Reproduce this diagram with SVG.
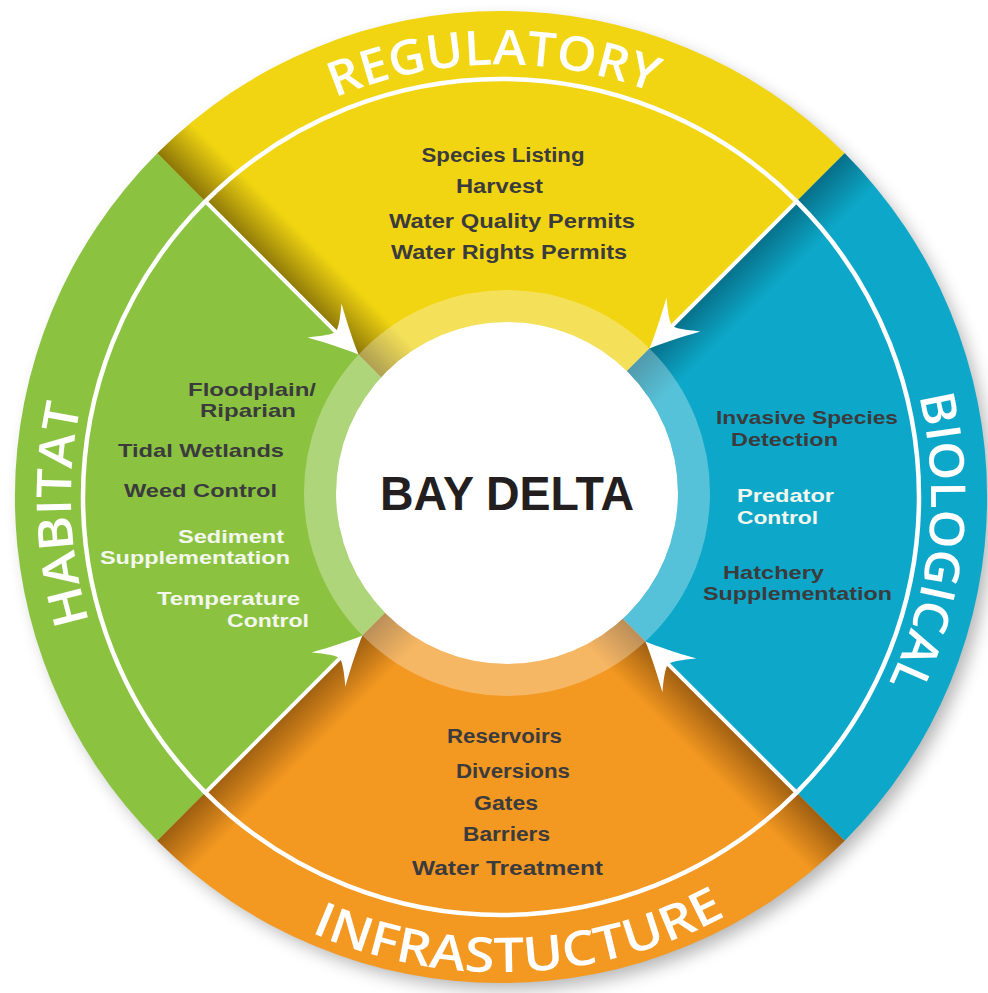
<svg xmlns="http://www.w3.org/2000/svg" width="988" height="993" viewBox="0 0 988 993">
<style>
.lbl{font-family:"Open Sans","Liberation Sans",sans-serif;font-weight:600;font-size:48px;fill:#ffffff}
.it{font-family:"Liberation Sans",Arial,sans-serif;font-weight:700;font-size:20px;fill:#3b3b3d;text-anchor:middle}
.iw{font-family:"Liberation Sans",Arial,sans-serif;font-weight:700;font-size:19px;fill:#3b3b3d;text-anchor:middle}
.wh{fill:#f4f7ee}
.center{font-family:"Liberation Sans",Arial,sans-serif;font-weight:700;font-size:48px;fill:#231f20;text-anchor:middle}
.sep{stroke:#ffffff;stroke-width:4;fill:none;marker-end:url(#arrow)}
</style>
<defs>
<filter id="blur" x="-10%" y="-10%" width="120%" height="120%"><feGaussianBlur stdDeviation="9"/></filter>
<linearGradient id="shY" gradientUnits="userSpaceOnUse" x1="501" y1="497" x2="533" y2="465"><stop offset="0" stop-color="#3a2a00" stop-opacity="0.55"/><stop offset="1" stop-color="#3a2a00" stop-opacity="0"/></linearGradient>
<linearGradient id="shB" gradientUnits="userSpaceOnUse" x1="501" y1="497" x2="533" y2="529"><stop offset="0" stop-color="#002a3a" stop-opacity="0.45"/><stop offset="1" stop-color="#002a3a" stop-opacity="0"/></linearGradient>
<linearGradient id="shOL" gradientUnits="userSpaceOnUse" x1="501" y1="497" x2="533" y2="529"><stop offset="0" stop-color="#4a2500" stop-opacity="0.5"/><stop offset="1" stop-color="#4a2500" stop-opacity="0"/></linearGradient>
<linearGradient id="shOR" gradientUnits="userSpaceOnUse" x1="501" y1="497" x2="469" y2="529"><stop offset="0" stop-color="#4a2500" stop-opacity="0.5"/><stop offset="1" stop-color="#4a2500" stop-opacity="0"/></linearGradient>
<path id="pReg" d="M223.3,166.1 A430,430 0 0 1 767.0,156.6"/>
<path id="pHab" d="M182.9,786.4 A430,430 0 0 1 160.8,234.0"/>
<path id="pBio" d="M857.5,256.5 A430,430 0 0 1 799.7,806.3"/>
<path id="pInf" d="M211.4,873.5 A475,475 0 0 0 820.4,849.0"/>
<marker id="arrow" viewBox="-74 -27 78 54" markerWidth="78" markerHeight="54" refX="-25" refY="0" orient="auto" markerUnits="userSpaceOnUse">
<path d="M0,0 C-12,-5 -30,-14 -48,-24 C-38,-12 -33,-5 -32,0 C-33,5 -38,12 -48,24 C-30,14 -12,5 0,0 Z" fill="#ffffff"/>
</marker>
</defs>
<rect width="988" height="993" fill="#ffffff"/>
<circle cx="508" cy="505" r="484" fill="#000" opacity="0.3" filter="url(#blur)"/>

<g id="habitat">
<path d="M501,497 L157.3,840.7 A486,486 0 0 1 157.3,153.3 Z" fill="#8bc341"/>
<text class="lbl" textLength="219" lengthAdjust="spacingAndGlyphs"><textPath href="#pHab" startOffset="50%" text-anchor="middle">HABITAT</textPath></text>
<text class="iw" x="252" y="396" textLength="128" lengthAdjust="spacingAndGlyphs">Floodplain/</text>
<text class="iw" x="248" y="417" textLength="96" lengthAdjust="spacingAndGlyphs">Riparian</text>
<text class="iw" x="201" y="457" textLength="166" lengthAdjust="spacingAndGlyphs">Tidal Wetlands</text>
<text class="iw" x="200.5" y="497" textLength="153" lengthAdjust="spacingAndGlyphs">Weed Control</text>
<text class="iw wh" x="231" y="543" textLength="106" lengthAdjust="spacingAndGlyphs">Sediment</text>
<text class="iw wh" x="195" y="564" textLength="190" lengthAdjust="spacingAndGlyphs">Supplementation</text>
<text class="iw wh" x="228.5" y="605" textLength="143" lengthAdjust="spacingAndGlyphs">Temperature</text>
<text class="iw wh" x="268" y="627" textLength="82" lengthAdjust="spacingAndGlyphs">Control</text>
</g>

<g id="regulatory">
<path d="M501,497 L157.3,153.3 A486,486 0 0 1 844.7,153.3 Z" fill="#f1d512"/>
<path d="M501,497 L157.3,153.3 A486,486 0 0 1 844.7,153.3 Z" fill="url(#shY)"/>
<text class="lbl" textLength="326" lengthAdjust="spacingAndGlyphs"><textPath href="#pReg" startOffset="50%" text-anchor="middle">REGULATORY</textPath></text>
<text class="it" x="503" y="162" textLength="163" lengthAdjust="spacingAndGlyphs">Species Listing</text>
<text class="it" x="499.5" y="193" textLength="87" lengthAdjust="spacingAndGlyphs">Harvest</text>
<text class="it" x="512" y="228" textLength="246" lengthAdjust="spacingAndGlyphs">Water Quality Permits</text>
<text class="it" x="509" y="259" textLength="236" lengthAdjust="spacingAndGlyphs">Water Rights Permits</text>
</g>

<g id="biological">
<path d="M501,497 L844.7,153.3 A486,486 0 0 1 844.7,840.7 Z" fill="#0da8c9"/>
<path d="M501,497 L844.7,153.3 A486,486 0 0 1 844.7,840.7 Z" fill="url(#shB)"/>
<text class="lbl" textLength="294" lengthAdjust="spacingAndGlyphs"><textPath href="#pBio" startOffset="50%" text-anchor="middle">BIOLOGICAL</textPath></text>
<text class="iw" x="807" y="424" textLength="182" lengthAdjust="spacingAndGlyphs">Invasive Species</text>
<text class="iw" x="784.5" y="446" textLength="107" lengthAdjust="spacingAndGlyphs">Detection</text>
<text class="iw wh" x="785.5" y="502" textLength="97" lengthAdjust="spacingAndGlyphs">Predator</text>
<text class="iw wh" x="777.5" y="524" textLength="81" lengthAdjust="spacingAndGlyphs">Control</text>
<text class="iw" x="773.5" y="579" textLength="101" lengthAdjust="spacingAndGlyphs">Hatchery</text>
<text class="iw" x="797.5" y="600" textLength="189" lengthAdjust="spacingAndGlyphs">Supplementation</text>
</g>

<g id="infrastructure">
<path d="M501,497 L844.7,840.7 A486,486 0 0 1 157.3,840.7 Z" fill="#f39821"/>
<path d="M501,497 L844.7,840.7 A486,486 0 0 1 157.3,840.7 Z" fill="url(#shOL)"/>
<path d="M501,497 L844.7,840.7 A486,486 0 0 1 157.3,840.7 Z" fill="url(#shOR)"/>
<text class="lbl" textLength="430" lengthAdjust="spacingAndGlyphs"><textPath href="#pInf" startOffset="50%" text-anchor="middle">INFRASTUCTURE</textPath></text>
<text class="it" x="504.5" y="743" textLength="115" lengthAdjust="spacingAndGlyphs">Reservoirs</text>
<text class="it" x="513" y="778" textLength="114" lengthAdjust="spacingAndGlyphs">Diversions</text>
<text class="it" x="506" y="810" textLength="64" lengthAdjust="spacingAndGlyphs">Gates</text>
<text class="it" x="506.5" y="841" textLength="87" lengthAdjust="spacingAndGlyphs">Barriers</text>
<text class="it" x="507.5" y="875" textLength="191" lengthAdjust="spacingAndGlyphs">Water Treatment</text>
</g>

<circle id="ring-line" cx="501" cy="497" r="418" fill="none" stroke="#ffffff" stroke-width="4.5"/>

<g id="bay-delta">
<circle cx="507" cy="493" r="187" fill="none" stroke="#ffffff" stroke-opacity="0.3" stroke-width="32"/>
<circle cx="507" cy="493" r="171" fill="#ffffff"/>
<text class="center" x="507" y="510" textLength="254" lengthAdjust="spacingAndGlyphs">BAY DELTA</text>
</g>

<g id="connectors">
<line class="sep" x1="205.4" y1="201.4" x2="340.8" y2="336.8"/>
<line class="sep" x1="796.6" y1="201.4" x2="667.2" y2="330.8"/>
<line class="sep" x1="205.4" y1="792.6" x2="344.7" y2="653.3"/>
<line class="sep" x1="796.6" y1="792.6" x2="663.1" y2="659.1"/>
</g>
</svg>
